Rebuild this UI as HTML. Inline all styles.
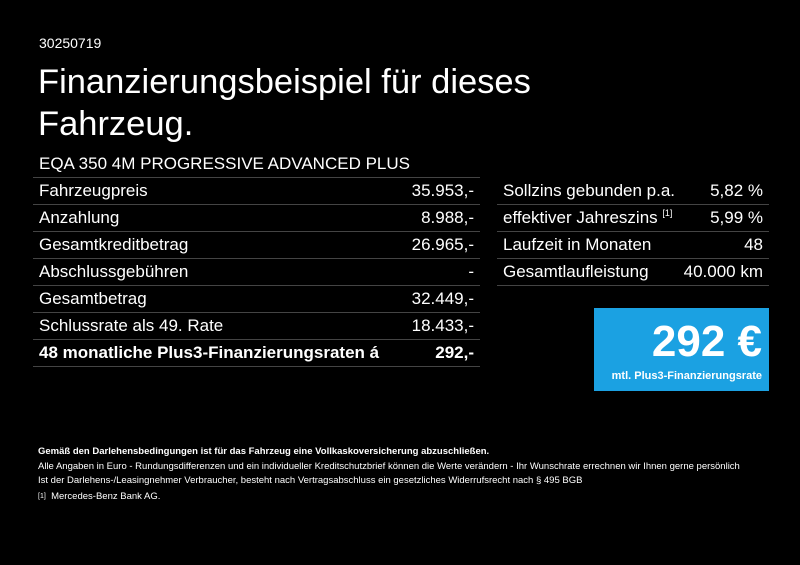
<!DOCTYPE html>
<html><head><meta charset="utf-8"><style>
*{margin:0;padding:0;box-sizing:border-box}
body{width:800px;height:565px;background:#000;color:#fff;font-family:"Liberation Sans",sans-serif;position:relative;overflow:hidden}
.a{position:absolute;white-space:nowrap}
.row{position:absolute;height:27px;border-bottom:1.5px solid #444;font-size:17px;line-height:26px}
.row span.r{position:absolute;right:6px;top:0}
.row span.l{position:absolute;left:6px;top:0}
.s{font-size:9.5px;line-height:10px}
sup{line-height:0;font-size:9px;vertical-align:baseline;position:relative;top:-7px}
</style></head><body>
<div class="a" style="left:39px;top:35px;font-size:14px">30250719</div>
<div class="a" style="left:38px;top:61px;font-size:34.5px;line-height:42px">Finanzierungsbeispiel für dieses<br>Fahrzeug.</div>
<div class="row" style="left:33px;top:151px;width:447px"><span class="l">EQA 350 4M PROGRESSIVE ADVANCED PLUS</span></div>
<div class="row" style="left:33px;top:178px;width:447px"><span class="l">Fahrzeugpreis</span><span class="r">35.953,-</span></div>
<div class="row" style="left:33px;top:205px;width:447px"><span class="l">Anzahlung</span><span class="r">8.988,-</span></div>
<div class="row" style="left:33px;top:232px;width:447px"><span class="l">Gesamtkreditbetrag</span><span class="r">26.965,-</span></div>
<div class="row" style="left:33px;top:259px;width:447px"><span class="l">Abschlussgebühren</span><span class="r">-</span></div>
<div class="row" style="left:33px;top:286px;width:447px"><span class="l">Gesamtbetrag</span><span class="r">32.449,-</span></div>
<div class="row" style="left:33px;top:313px;width:447px"><span class="l">Schlussrate als 49. Rate</span><span class="r">18.433,-</span></div>
<div class="row" style="left:33px;top:340px;width:447px;font-weight:bold"><span class="l">48 monatliche Plus3-Finanzierungsraten á</span><span class="r">292,-</span></div>
<div class="row" style="left:497px;top:178px;width:272px"><span class="l">Sollzins gebunden p.a.</span><span class="r">5,82 %</span></div>
<div class="row" style="left:497px;top:205px;width:272px"><span class="l">effektiver Jahreszins <sup>[1]</sup></span><span class="r">5,99 %</span></div>
<div class="row" style="left:497px;top:232px;width:272px"><span class="l">Laufzeit in Monaten</span><span class="r">48</span></div>
<div class="row" style="left:497px;top:259px;width:272px"><span class="l">Gesamtlaufleistung</span><span class="r">40.000 km</span></div>
<div class="a" style="left:594px;top:308px;width:175px;height:83px;background:#1ba1e2">
<div class="a" style="right:7px;top:10px;font-size:44px;font-weight:bold;line-height:48px">292 €</div>
<div class="a" style="right:7px;top:62px;font-size:11px;font-weight:bold">mtl. Plus3-Finanzierungsrate</div>
</div>
<div class="a s" style="left:38px;top:447px;font-weight:bold">Gemäß den Darlehensbedingungen ist für das Fahrzeug eine Vollkaskoversicherung abzuschließen.</div>
<div class="a s" style="left:38px;top:462px">Alle Angaben in Euro - Rundungsdifferenzen und ein individueller Kreditschutzbrief können die Werte verändern - Ihr Wunschrate errechnen wir Ihnen gerne persönlich</div>
<div class="a s" style="left:38px;top:476px">Ist der Darlehens-/Leasingnehmer Verbraucher, besteht nach Vertragsabschluss ein gesetzliches Widerrufsrecht nach § 495 BGB</div>
<div class="a s" style="left:38px;top:492px"><span style="font-size:7px;vertical-align:top">[1]</span>&nbsp; Mercedes-Benz Bank AG.</div>
</body></html>
